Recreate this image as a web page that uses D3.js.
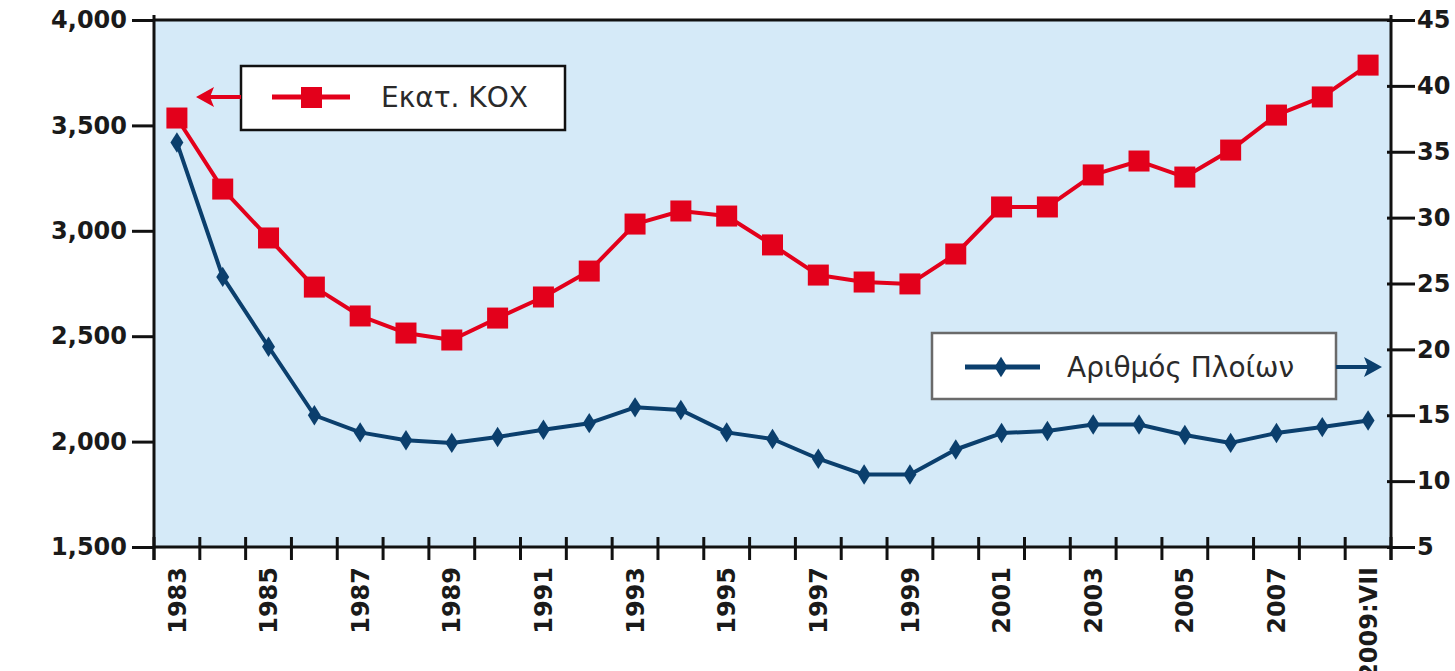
<!DOCTYPE html>
<html>
<head>
<meta charset="utf-8">
<script src="https://cdn.jsdelivr.net/npm/d3@7"></script>
<style>
    body { margin: 0; background: #fff; }
    svg { display: block; }
    .tick-label { font-family: "DejaVu Sans", sans-serif; font-weight: bold; font-size: 24px; fill: #1a1a1a; }
    .legend-text { font-family: "DejaVu Sans", sans-serif; font-size: 28px; fill: #2a2a2a; }
</style>
</head>
<body>
<svg id="chart" width="1455" height="671"></svg>
<script>
// 年份 / 类别
const years = ['1983', '1984', '1985', '1986', '1987', '1988', '1989', '1990', '1991', '1992',
    '1993', '1994', '1995', '1996', '1997', '1998', '1999', '2000', '2001', '2002',
    '2003', '2004', '2005', '2006', '2007', '2008', '2009:VII'];

// Εκατ. ΚΟΧ (左轴)
const tonnage = [3535, 3198, 2966, 2733, 2596, 2515, 2482, 2586, 2686, 2809,
    3032, 3094, 3070, 2933, 2790, 2757, 2748, 2890, 3113, 3113,
    3265, 3331, 3255, 3383, 3549, 3635, 3786];

// Αριθμός Πλοίων (右轴)
const ships = [35.7, 25.5, 20.2, 15.0, 13.7, 13.1, 12.9, 13.35, 13.9, 14.4,
    15.6, 15.4, 13.7, 13.2, 11.7, 10.5, 10.5, 12.4, 13.65, 13.8,
    14.3, 14.3, 13.5, 12.9, 13.65, 14.1, 14.6];

const leftTicks = [1500, 2000, 2500, 3000, 3500, 4000];
const rightTicks = [5, 10, 15, 20, 25, 30, 35, 40, 45];
const labelYears = ['1983', '1985', '1987', '1989', '1991', '1993', '1995', '1997',
    '1999', '2001', '2003', '2005', '2007', '2009:VII'];

const RED = '#e3001b';
const BLUE = '#0b3f6d';
const BG = '#d5eaf8';

const plot = { left: 154, right: 1391, top: 20, bottom: 547 };

const svg = d3.select('#chart');

const x = d3.scaleBand().domain(years).range([plot.left, plot.right]).padding(0);
const yL = d3.scaleLinear().domain([1500, 4000]).range([plot.bottom, plot.top]);
const yR = d3.scaleLinear().domain([5, 45]).range([plot.bottom, plot.top]);
const cx = d => x(d) + x.bandwidth() / 2;

// 背景
svg.append('rect')
    .attr('x', plot.left).attr('y', plot.top)
    .attr('width', plot.right - plot.left).attr('height', plot.bottom - plot.top)
    .attr('fill', BG);

// 左轴
const gL = svg.append('g')
    .attr('transform', `translate(${plot.left},0)`)
    .call(d3.axisLeft(yL).tickValues(leftTicks).tickSize(22).tickPadding(5).tickSizeOuter(0)
        .tickFormat(d3.format(',')));
gL.select('.domain').remove();
gL.selectAll('.tick line').attr('stroke', '#111').attr('stroke-width', 3);
gL.selectAll('.tick text').attr('class', 'tick-label').attr('font-size', null).attr('font-family', null);

// 右轴
const gR = svg.append('g')
    .attr('transform', `translate(${plot.right},0)`)
    .call(d3.axisRight(yR).tickValues(rightTicks).tickSize(24).tickPadding(2).tickSizeOuter(0));
gR.select('.domain').remove();
gR.selectAll('.tick line').attr('x1', -4).attr('stroke', '#111').attr('stroke-width', 3);
gR.selectAll('.tick text').attr('class', 'tick-label').attr('font-size', null).attr('font-family', null);

// 横轴刻度 (在类别边界)
const bounds = years.map(d => x(d)).concat([plot.right]);
svg.append('g').selectAll('line')
    .data(bounds)
    .enter().append('line')
    .attr('x1', d => d).attr('x2', d => d)
    .attr('y1', plot.bottom - 10).attr('y2', plot.bottom + 13)
    .attr('stroke', '#111').attr('stroke-width', 3);

svg.append('g').selectAll('text')
    .data(labelYears)
    .enter().append('text')
    .attr('class', 'tick-label')
    .attr('transform', d => `translate(${cx(d)},${plot.bottom + 20}) rotate(-90)`)
    .attr('text-anchor', 'end')
    .attr('dy', '0.36em')
    .text(d => d);

// 边框线
svg.append('line').attr('x1', plot.left).attr('x2', plot.right)
    .attr('y1', plot.top).attr('y2', plot.top).attr('stroke', '#111').attr('stroke-width', 3);
svg.append('line').attr('x1', plot.left).attr('x2', plot.right)
    .attr('y1', plot.bottom).attr('y2', plot.bottom).attr('stroke', '#111').attr('stroke-width', 3);
svg.append('line').attr('x1', plot.left).attr('x2', plot.left)
    .attr('y1', plot.top - 5).attr('y2', plot.bottom + 13).attr('stroke', '#111').attr('stroke-width', 3);
svg.append('line').attr('x1', plot.right).attr('x2', plot.right)
    .attr('y1', plot.top - 5).attr('y2', plot.bottom + 13).attr('stroke', '#111').attr('stroke-width', 3);

// 船只数量线
const shipLine = d3.line().x((d, i) => cx(years[i])).y(d => yR(d));
svg.append('path')
    .datum(ships)
    .attr('d', shipLine)
    .attr('fill', 'none').attr('stroke', BLUE).attr('stroke-width', 4).attr('stroke-linejoin', 'round');

const diamond = d3.symbol().type(d3.symbolDiamond).size(120);
svg.append('g').selectAll('path')
    .data(ships)
    .enter().append('path')
    .attr('d', diamond)
    .attr('transform', (d, i) => `translate(${cx(years[i])},${yR(d)}) scale(1.1,1)`)
    .attr('fill', BLUE);

// 吨位线
const tonLine = d3.line().x((d, i) => cx(years[i])).y(d => yL(d));
svg.append('path')
    .datum(tonnage)
    .attr('d', tonLine)
    .attr('fill', 'none').attr('stroke', RED).attr('stroke-width', 4).attr('stroke-linejoin', 'round');

const sq = 21;
svg.append('g').selectAll('rect')
    .data(tonnage)
    .enter().append('rect')
    .attr('x', (d, i) => cx(years[i]) - sq / 2)
    .attr('y', d => yL(d) - sq / 2)
    .attr('width', sq).attr('height', sq)
    .attr('fill', RED);

// 图例 1
const leg1 = svg.append('g');
leg1.append('rect').attr('x', 241).attr('y', 66).attr('width', 324).attr('height', 64)
    .attr('fill', '#fff').attr('stroke', '#111').attr('stroke-width', 2.5);
leg1.append('line').attr('x1', 272).attr('x2', 350).attr('y1', 97).attr('y2', 97)
    .attr('stroke', RED).attr('stroke-width', 5);
leg1.append('rect').attr('x', 301).attr('y', 87).attr('width', 21).attr('height', 21).attr('fill', RED);
leg1.append('text').attr('class', 'legend-text').attr('x', 381).attr('y', 107).text('Εκατ. ΚΟΧ');
leg1.append('line').attr('x1', 241).attr('x2', 208).attr('y1', 97).attr('y2', 97)
    .attr('stroke', RED).attr('stroke-width', 4);
leg1.append('path').attr('d', 'M196,97 L214,87 L210,97 L214,107 Z').attr('fill', RED);

// 图例 2
const leg2 = svg.append('g');
leg2.append('rect').attr('x', 932).attr('y', 333).attr('width', 404).attr('height', 66)
    .attr('fill', '#fff').attr('stroke', '#6a6a6a').attr('stroke-width', 2.5);
leg2.append('line').attr('x1', 965).attr('x2', 1040).attr('y1', 367).attr('y2', 367)
    .attr('stroke', BLUE).attr('stroke-width', 5);
leg2.append('path').attr('d', diamond).attr('transform', 'translate(1001,367) scale(1.1,1)').attr('fill', BLUE);
leg2.append('text').attr('class', 'legend-text').attr('x', 1067).attr('y', 377).text('Αριθμός Πλοίων');
leg2.append('line').attr('x1', 1336).attr('x2', 1368).attr('y1', 367).attr('y2', 367)
    .attr('stroke', BLUE).attr('stroke-width', 4);
leg2.append('path').attr('d', 'M1382,367 L1364,357 L1368,367 L1364,377 Z').attr('fill', BLUE);
</script>
</body>
</html>
